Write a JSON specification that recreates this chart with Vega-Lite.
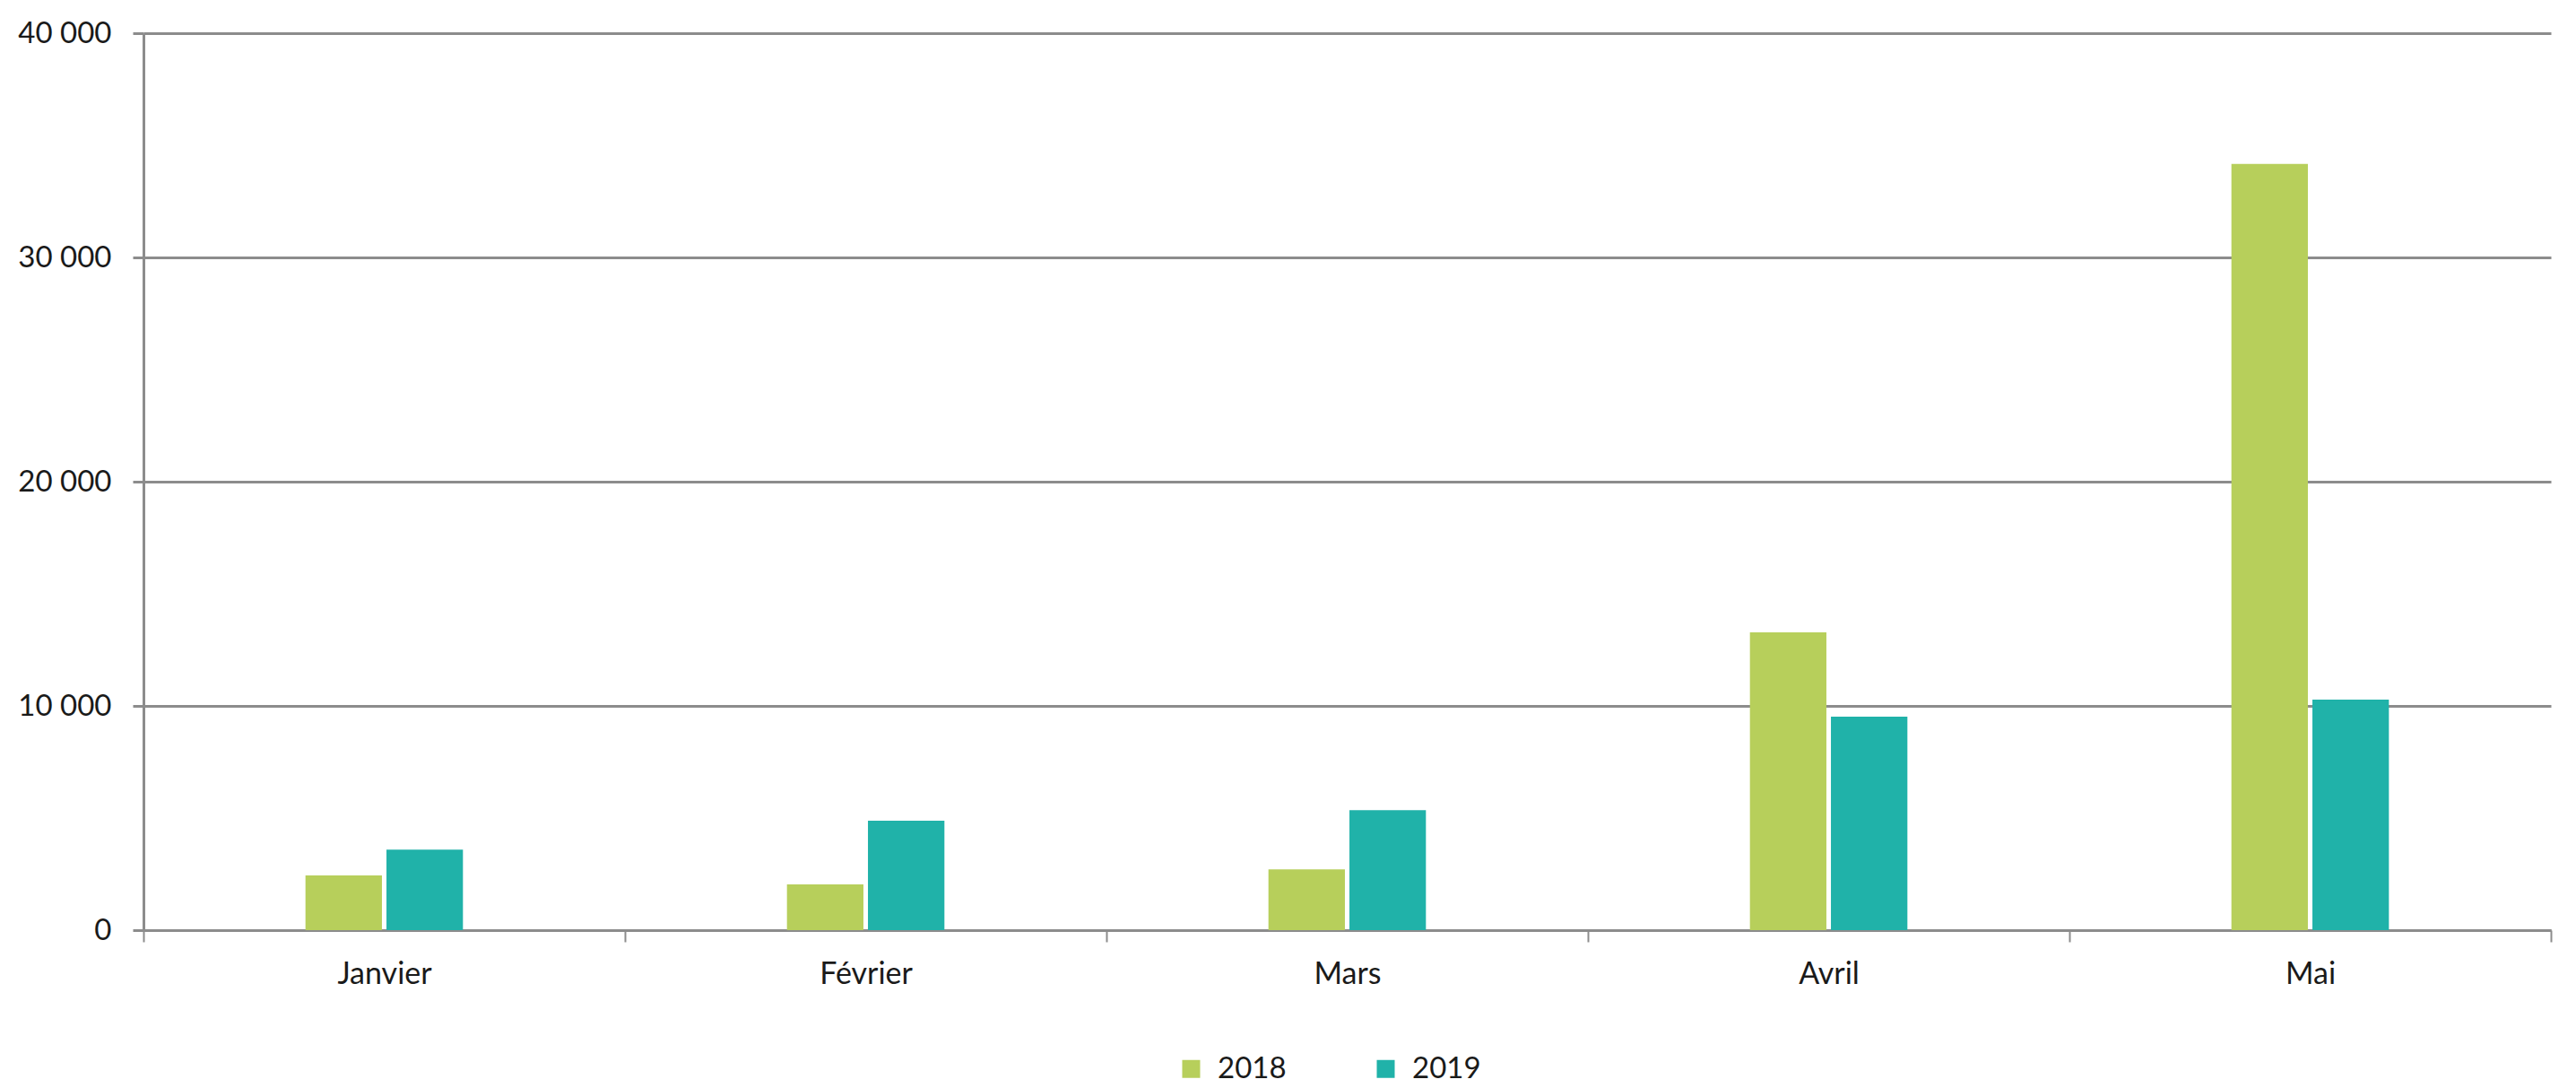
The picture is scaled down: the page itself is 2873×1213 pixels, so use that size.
{
  "$schema": "https://vega.github.io/schema/vega-lite/v6.json",
  "width": 2685,
  "height": 1000,
  "autosize": {"type": "none"},
  "padding": {"left": 160, "top": 37, "right": 28, "bottom": 176},
  "background": "white",
  "config": {
    "view": {"stroke": null},
    "font": "Lato",
    "axis": {"labelFont": "Lato", "labelColor": "#1a1a1a"},
    "legend": {"labelFont": "Lato", "labelColor": "#1a1a1a"}
  },
  "data": {
    "values": [
      {"mois": "Janvier", "annee": "2018", "valeur": 2440},
      {"mois": "Janvier", "annee": "2019", "valeur": 3590},
      {"mois": "Février", "annee": "2018", "valeur": 2040},
      {"mois": "Février", "annee": "2019", "valeur": 4880},
      {"mois": "Mars", "annee": "2018", "valeur": 2710},
      {"mois": "Mars", "annee": "2019", "valeur": 5350},
      {"mois": "Avril", "annee": "2018", "valeur": 13280},
      {"mois": "Avril", "annee": "2019", "valeur": 9520},
      {"mois": "Mai", "annee": "2018", "valeur": 34170},
      {"mois": "Mai", "annee": "2019", "valeur": 10280}
    ]
  },
  "mark": {"type": "bar"},
  "encoding": {
    "x": {
      "field": "mois",
      "type": "nominal",
      "sort": ["Janvier", "Février", "Mars", "Avril", "Mai"],
      "scale": {"paddingInner": 0, "paddingOuter": 0},
      "axis": {
        "title": null,
        "labelAngle": 0,
        "labelFontSize": 34,
        "labelPadding": 19,
        "tickBand": "extent",
        "tickSize": 13,
        "tickWidth": 2,
        "tickColor": "#8c8c8c",
        "domainColor": "#8c8c8c",
        "domainWidth": 3,
        "grid": false
      }
    },
    "xOffset": {
      "field": "annee",
      "type": "nominal",
      "scale": {"domain": ["_g", "2018", "2019", "_d"], "paddingInner": 0.056, "paddingOuter": 1}
    },
    "y": {
      "field": "valeur",
      "type": "quantitative",
      "scale": {"domain": [0, 40000], "nice": false},
      "axis": {
        "title": null,
        "values": [0, 10000, 20000, 30000, 40000],
        "labelExpr": "replace(format(datum.value, ','), ',', ' ')",
        "labelFontSize": 33,
        "labelPadding": 24,
        "tickSize": 12,
        "tickWidth": 3,
        "tickColor": "#8c8c8c",
        "domainColor": "#8c8c8c",
        "domainWidth": 3,
        "grid": true,
        "gridColor": "#8c8c8c",
        "gridWidth": 3
      }
    },
    "color": {
      "field": "annee",
      "type": "nominal",
      "scale": {"domain": ["2018", "2019"], "range": ["#b7cf5b", "#20b2a9"]},
      "legend": {
        "title": null,
        "orient": "none",
        "legendX": 1152,
        "legendY": 1138,
        "direction": "horizontal",
        "symbolType": "square",
        "symbolSize": 400,
        "symbolStrokeWidth": 0,
        "labelFontSize": 33,
        "labelOffset": 13,
        "columnPadding": 94,
        "padding": 0
      }
    }
  }
}
